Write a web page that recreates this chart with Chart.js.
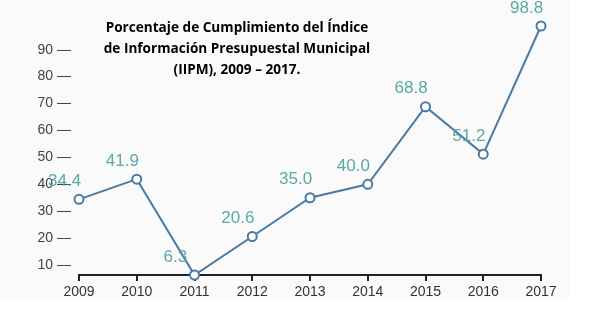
<!DOCTYPE html>
<html lang="es">
<head>
    <meta charset="UTF-8">
    <script src="https://cdn.jsdelivr.net/npm/chart.js"></script>
    <title>IIPM 2009 - 2017</title>
    <style>
        body { margin: 0; background: #fff; }
    </style>
</head>
<body>
    <div style="width: 594px; height: 332px;">
        <canvas id="grafico" width="594" height="332"></canvas>
    </div>
    <script>
        const anios = ["2009", "2010", "2011", "2012", "2013", "2014", "2015", "2016", "2017"]
        const porcentajes = [34.4, 41.9, 6.3, 20.6, 35.0, 40.0, 68.8, 51.2, 98.8]
        const ticksY = [10, 20, 30, 40, 50, 60, 70, 80, 90]
        const titulo = [
          "Porcentaje de Cumplimiento del Índice",
          "de Información Presupuestal Municipal",
          "(IIPM), 2009 – 2017."
        ]

        // fondo gris muy claro
        const fondo = {
          id: 'fondo',
          beforeDraw(chart) {
            const c = chart.ctx
            c.save()
            c.fillStyle = '#fafafa'
            c.fillRect(0, 0, 570, 300)
            c.restore()
          }
        }

        // valores encima de cada punto y título dentro del gráfico
        const etiquetas = {
          id: 'etiquetas',
          afterDatasetsDraw(chart) {
            const c = chart.ctx
            const meta = chart.getDatasetMeta(0)
            c.save()
            c.font = '17px "Liberation Sans", Arial, sans-serif'
            c.fillStyle = '#5aa9a6'
            c.textAlign = 'left'
            c.textBaseline = 'middle'
            meta.data.forEach((p, i) => {
              c.fillText(porcentajes[i].toFixed(1), p.x - 31, p.y - 18)
            })
            c.restore()
          },
          afterDraw(chart) {
            const c = chart.ctx
            c.save()
            c.font = 'bold 13.6px "Open Sans", sans-serif'
            c.fillStyle = '#000'
            c.textAlign = 'center'
            c.textBaseline = 'middle'
            titulo.forEach((t, i) => c.fillText(t, 237, 28 + i * 21))
            c.restore()
          }
        }

        const ctx = document.getElementById('grafico')
        const grafico = new Chart(ctx, {
          type: 'line',
          data: {
            labels: anios,
            datasets: [{
              data: porcentajes,
              borderColor: '#4b7aa3',
              borderWidth: 2,
              pointRadius: 4.5,
              pointBorderWidth: 2,
              pointBackgroundColor: '#fff',
              pointBorderColor: '#4b7aa3',
              tension: 0,
              clip: false
            }]
          },
          plugins: [fondo, etiquetas],
          options: {
            responsive: false,
            animation: false,
            layout: { padding: { left: 0, top: 26, right: 53, bottom: 0 } },
            plugins: { legend: { display: false }, tooltip: { enabled: false } },
            scales: {
              x: {
                offset: false,
                border: { display: true, color: '#222', width: 2 },
                grid: { drawOnChartArea: false, drawTicks: true, tickLength: 6, color: '#222', lineWidth: 2 },
                ticks: { color: '#333', font: { size: 14, family: 'Arial' }, padding: 3, maxRotation: 0 },
                afterFit(scale) { scale.height = 57 }
              },
              y: {
                min: 6.3,
                max: 98.8,
                border: { display: false },
                grid: { display: false },
                afterBuildTicks(scale) { scale.ticks = ticksY.map(v => ({ value: v })) },
                ticks: {
                  color: '#444',
                  font: { size: 14, family: 'Arial' },
                  padding: 0,
                  callback: v => v + ' —'
                },
                afterFit(scale) { scale.width = 79 }
              }
            }
          }
        })
    </script>
</body>
</html>
